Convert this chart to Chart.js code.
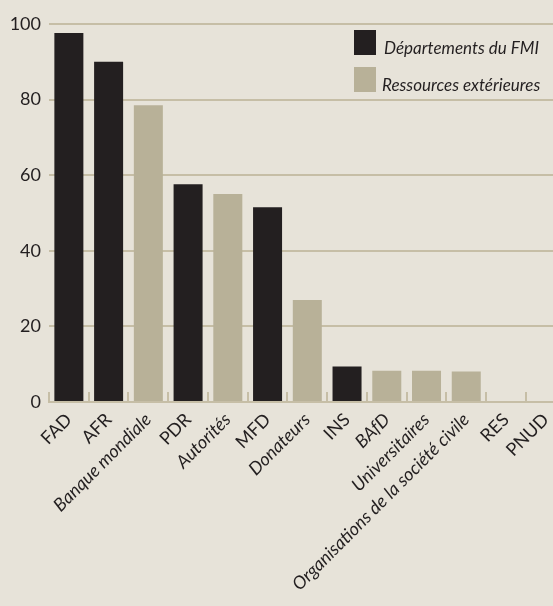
<!DOCTYPE html>
<html lang="fr">
<head>
  <meta charset="UTF-8" />
  <title>Départements du FMI et ressources extérieures</title>
  <style>
    html, body {
      margin: 0;
      padding: 0;
      background-color: #e7e3d9;
      overflow: hidden;
    }
    #wrap {
      width: 578px;
      height: 606px;
    }
  </style>
</head>
<body>
  <div id="wrap"><canvas id="chart"></canvas></div>

  <script src="https://cdn.jsdelivr.net/npm/chart.js"></script>
  <script>
    const categories = ['FAD', 'AFR', 'Banque mondiale', 'PDR', 'Autorités', 'MFD', 'Donateurs', 'INS',
      'BAfD', 'Universitaires', 'Organisations de la société civile', 'RES', 'PNUD'];
    const values = [97.6, 90, 78.5, 57.6, 55, 51.5, 27, 9.4, 8.3, 8.3, 8.1, 0, 0];
    // 'fmi' = Départements du FMI, 'ext' = Ressources extérieures
    const source = ['fmi', 'fmi', 'ext', 'fmi', 'ext', 'fmi', 'ext', 'fmi', 'ext', 'ext', 'ext', 'fmi', 'fmi'];
    const yTicks = [0, 20, 40, 60, 80, 100];

    const dark = '#231f20';
    const beige = '#b8b198';
    const gridCol = '#c6bea6';
    const font = 'Lato, "Open Sans", sans-serif';

    const fmiData = values.map((v, i) => source[i] === 'fmi' ? v : null);
    const extData = values.map((v, i) => source[i] === 'ext' ? v : null);

    // legende dessinee dans la zone du graphique, en haut a droite
    const insideLegend = {
      id: 'insideLegend',
      afterDraw(chart) {
        const ctx = chart.ctx;
        ctx.save();
        ctx.font = 'italic 17px ' + font;
        ctx.textBaseline = 'alphabetic';
        chart.data.datasets.forEach((ds, i) => {
          const top = 30 + i * 37;
          ctx.fillStyle = ds.backgroundColor;
          ctx.fillRect(354, top, 22, 25);
          ctx.fillStyle = dark;
          ctx.fillText(ds.label, 384 - i * 2, top + 24);
        });
        ctx.restore();
      }
    };

    new Chart(document.getElementById('chart'), {
      type: 'bar',
      data: {
        labels: categories,
        datasets: [
          { label: 'Départements du FMI', data: fmiData, backgroundColor: dark },
          { label: 'Ressources extérieures', data: extData, backgroundColor: beige }
        ]
      },
      options: {
        responsive: true,
        maintainAspectRatio: false,
        animation: false,
        layout: { padding: { top: 24, right: 0, bottom: 0, left: 0 } },
        datasets: { bar: { categoryPercentage: 1, barPercentage: 0.73 } },
        plugins: {
          legend: { display: false },
          tooltip: { enabled: false }
        },
        scales: {
          x: {
            stacked: true,
            border: { display: true, color: gridCol, width: 2 },
            grid: {
              display: true,
              drawOnChartArea: false,
              drawTicks: true,
              tickLength: -10,
              color: gridCol,
              lineWidth: 2
            },
            ticks: {
              color: dark,
              minRotation: 45,
              maxRotation: 45,
              autoSkip: false,
              padding: 17,
              font: (c) => ({
                family: font,
                size: 18,
                style: source[c.index] === 'ext' ? 'italic' : 'normal'
              })
            },
            afterFit: (s) => { s.height = 204; }
          },
          y: {
            stacked: true,
            min: 0,
            max: 100,
            afterBuildTicks: (s) => { s.ticks = yTicks.map(v => ({ value: v })); },
            border: { display: false },
            grid: { color: gridCol, lineWidth: 2, drawTicks: false },
            ticks: {
              color: dark,
              padding: 8,
              font: { family: font, size: 18 }
            },
            afterFit: (s) => { s.width = 49; }
          }
        }
      },
      plugins: [insideLegend]
    });
  </script>
</body>
</html>
